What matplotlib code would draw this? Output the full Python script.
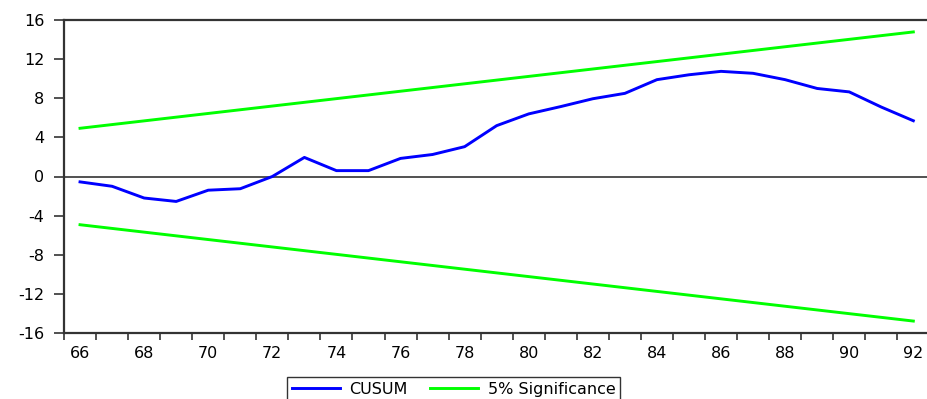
import matplotlib
matplotlib.use("Agg")
import matplotlib.pyplot as plt
from matplotlib.ticker import FixedLocator

plt.rcParams['font.family'] = ['DejaVu Sans']

# Recursive-residual CUSUM, 1966-1992
years = [66, 67, 68, 69, 70, 71, 72, 73, 74, 75, 76, 77, 78, 79,
         80, 81, 82, 83, 84, 85, 86, 87, 88, 89, 90, 91, 92]
cusum = [-0.55, -1.0, -2.2, -2.55, -1.4, -1.25, 0.0, 1.95, 0.6, 0.6,
         1.85, 2.25, 3.05, 5.2, 6.4, 7.15, 7.95, 8.5, 9.9, 10.4,
         10.75, 10.55, 9.9, 9.0, 8.65, 7.1, 5.7]

# 5% significance bounds (straight lines between end points)
bound_years = [66, 92]
upper_bound = [4.93, 14.78]
lower_bound = [-4.93, -14.78]

y_ticks = [-16, -12, -8, -4, 0, 4, 8, 12, 16]
x_labels = [66, 68, 70, 72, 74, 76, 78, 80, 82, 84, 86, 88, 90, 92]

W, H = 927, 399
fig = plt.figure(figsize=(W / 100, H / 100), dpi=100)
left_px, top_px, bottom_px = 64, 20, 333
px_per_year = 32.05
right_px = left_px + 27 * px_per_year
ax = fig.add_axes([left_px / W, 1 - bottom_px / H,
                   (right_px - left_px) / W, (bottom_px - top_px) / H])

blue = '#0000FF'
green = '#00FF00'
l1, = ax.plot(years, cusum, color=blue, lw=2.1, solid_joinstyle='round')
l2, = ax.plot(bound_years, upper_bound, color=green, lw=2.1)
ax.plot(bound_years, lower_bound, color=green, lw=2.1)
ax.axhline(0, color='#222222', lw=1.1, zorder=1)

ax.set_xlim(65.5, 92.5)
ax.set_ylim(-16, 16)

for side in ('top', 'left', 'bottom'):
    ax.spines[side].set_color('#333333')
    ax.spines[side].set_linewidth(1.6)
ax.spines['right'].set_visible(False)

ax.set_yticks(y_ticks)
ax.set_yticklabels([str(v) for v in y_ticks])
ax.tick_params(axis='y', direction='out', length=7.5, width=1.1,
               color='#222222', labelsize=11.5, pad=6.5)

# year labels centred in each year, ticks at the year boundaries
ax.xaxis.set_major_locator(FixedLocator(x_labels))
ax.set_xticklabels([str(v) for v in x_labels])
ax.xaxis.set_minor_locator(FixedLocator([y + 0.5 for y in range(65, 93)]))
ax.tick_params(axis='x', which='major', length=0, labelsize=11.5, pad=9)
ax.tick_params(axis='x', which='minor', direction='out', length=5,
               width=1.1, color='#222222')

leg = fig.legend([l1, l2], ['CUSUM', '5% Significance'], ncol=2,
                 loc='upper left', bbox_to_anchor=(287 / W, 1 - 377 / H),
                 fontsize=11.5, frameon=True, fancybox=False,
                 edgecolor='black', handlelength=3.0, columnspacing=1.4,
                 handletextpad=0.6, borderpad=0.3, borderaxespad=0)
leg.get_frame().set_linewidth(1.0)

fig.savefig('out.png', dpi=100)
